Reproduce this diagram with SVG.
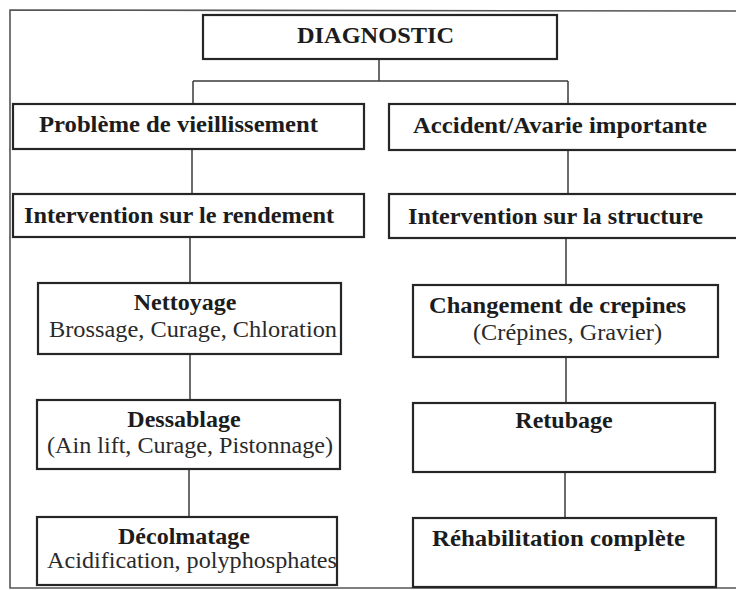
<svg xmlns="http://www.w3.org/2000/svg" width="736" height="590" viewBox="0 0 736 590">
  <style>
    .box { fill: #ffffff; stroke: #262626; stroke-width: 2.2; }
    .frame { fill: none; stroke: #555555; stroke-width: 1.6; }
    .conn { fill: none; stroke: #3a3a3a; stroke-width: 1.5; }
    .h { font-family: "Liberation Serif", "Times New Roman", serif; font-weight: bold; font-size: 24px; fill: #1c1c1c; }
    .s { font-family: "Liberation Serif", "Times New Roman", serif; font-size: 24px; fill: #2a2a2a; }
  </style>
  <rect x="0" y="0" width="736" height="590" fill="#ffffff"/>
  <path class="frame" d="M 742 11 L 10 10 L 10 588 L 742 588"/>

  <g id="connectors">
    <line class="conn" x1="379" y1="59" x2="379" y2="81"/>
    <line class="conn" x1="193" y1="81" x2="568" y2="81"/>
    <line class="conn" x1="193" y1="81" x2="193" y2="104"/>
    <line class="conn" x1="568" y1="81" x2="568" y2="104"/>
    <line class="conn" x1="192" y1="149" x2="192" y2="194"/>
    <line class="conn" x1="568" y1="150" x2="568" y2="194"/>
    <line class="conn" x1="190" y1="237" x2="190" y2="283"/>
    <line class="conn" x1="566" y1="238" x2="566" y2="285"/>
    <line class="conn" x1="190" y1="354" x2="190" y2="400"/>
    <line class="conn" x1="566" y1="357" x2="566" y2="403"/>
    <line class="conn" x1="189" y1="469" x2="189" y2="517"/>
    <line class="conn" x1="565" y1="472" x2="565" y2="518"/>
  </g>

  <g id="diagnostic">
    <rect class="box" x="203" y="15" width="354" height="44"/>
    <text class="h" x="297" y="43" textLength="157" lengthAdjust="spacingAndGlyphs">DIAGNOSTIC</text>
  </g>

  <g id="probleme">
    <rect class="box" x="13" y="104" width="351" height="45"/>
    <text class="h" x="39" y="132" textLength="279" lengthAdjust="spacingAndGlyphs">Problème de vieillissement</text>
  </g>

  <g id="accident">
    <rect class="box" x="389" y="104" width="352" height="46"/>
    <text class="h" x="413" y="133" textLength="294" lengthAdjust="spacingAndGlyphs">Accident/Avarie importante</text>
  </g>

  <g id="intervention-rendement">
    <rect class="box" x="13" y="194" width="351" height="43"/>
    <text class="h" x="24" y="223" textLength="310" lengthAdjust="spacingAndGlyphs">Intervention sur le rendement</text>
  </g>

  <g id="intervention-structure">
    <rect class="box" x="389" y="194" width="352" height="44"/>
    <text class="h" x="408" y="224" textLength="295" lengthAdjust="spacingAndGlyphs">Intervention sur la structure</text>
  </g>

  <g id="nettoyage">
    <rect class="box" x="38" y="283" width="303" height="71"/>
    <text class="h" x="185" y="310" text-anchor="middle">Nettoyage</text>
    <text class="s" x="49" y="337" textLength="288" lengthAdjust="spacingAndGlyphs">Brossage, Curage, Chloration</text>
  </g>

  <g id="dessablage">
    <rect class="box" x="37" y="400" width="303" height="69"/>
    <text class="h" x="184" y="427" text-anchor="middle">Dessablage</text>
    <text class="s" x="47" y="453" textLength="286" lengthAdjust="spacingAndGlyphs">(Ain lift, Curage, Pistonnage)</text>
  </g>

  <g id="decolmatage">
    <rect class="box" x="37" y="517" width="300" height="68"/>
    <text class="h" x="184" y="544" text-anchor="middle">Décolmatage</text>
    <text class="s" x="47" y="568" textLength="290" lengthAdjust="spacingAndGlyphs">Acidification, polyphosphates</text>
  </g>

  <g id="changement">
    <rect class="box" x="413" y="285" width="305" height="72"/>
    <text class="h" x="429" y="313" textLength="257" lengthAdjust="spacingAndGlyphs">Changement de crepines</text>
    <text class="s" x="473" y="340" textLength="189" lengthAdjust="spacingAndGlyphs">(Crépines, Gravier)</text>
  </g>

  <g id="retubage">
    <rect class="box" x="413" y="403" width="302" height="69"/>
    <text class="h" x="564" y="428" text-anchor="middle">Retubage</text>
  </g>

  <g id="rehabilitation">
    <rect class="box" x="413" y="518" width="303" height="69"/>
    <text class="h" x="432" y="546" textLength="253" lengthAdjust="spacingAndGlyphs">Réhabilitation complète</text>
  </g>
</svg>
